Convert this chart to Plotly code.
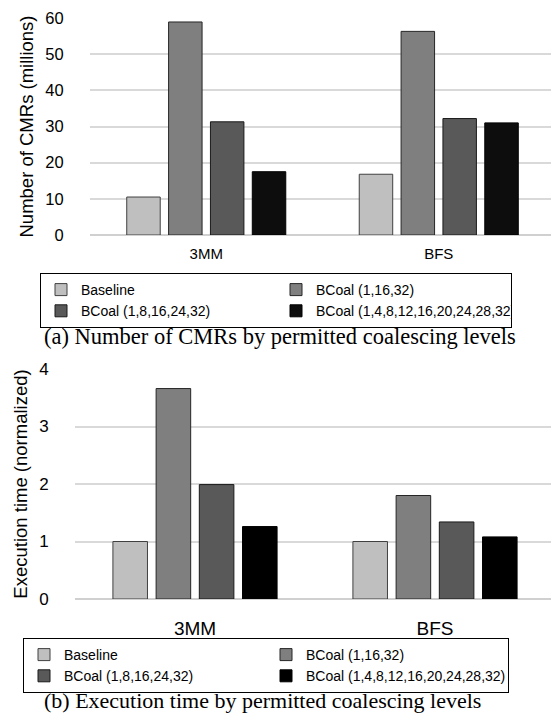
import plotly.graph_objects as go

categories = ["3MM", "BFS"]
series_names = ["Baseline", "BCoal (1,16,32)", "BCoal (1,8,16,24,32)", "BCoal (1,4,8,12,16,20,24,28,32)"]

cmr_baseline = [10.5, 16.8]
cmr_b16 = [58.9, 56.3]
cmr_b8 = [31.3, 32.2]
cmr_b4 = [17.5, 31.0]

time_baseline = [1.0, 1.0]
time_b16 = [3.66, 1.80]
time_b8 = [1.99, 1.34]
time_b4 = [1.26, 1.08]

colors_top = ["#bfbfbf", "#7f7f7f", "#595959", "#0d0d0d"]
colors_bot = ["#bfbfbf", "#7f7f7f", "#595959", "#000000"]
line_colors = ["#404040", "#262626", "#1a1a1a", "#000000"]

FONT = "Liberation Sans, Arial, sans-serif"
SERIF = "Liberation Serif, Times New Roman, serif"

fig = go.Figure()

top_vals = [cmr_baseline, cmr_b16, cmr_b8, cmr_b4]
bot_vals = [time_baseline, time_b16, time_b8, time_b4]

for i, name in enumerate(series_names):
    fig.add_trace(go.Bar(
        x=categories, y=top_vals[i], name=name,
        marker=dict(color=colors_top[i], line=dict(color=line_colors[i], width=1)),
        xaxis="x", yaxis="y", legend="legend", offsetgroup=str(i),
    ))
for i, name in enumerate(series_names):
    fig.add_trace(go.Bar(
        x=categories, y=bot_vals[i], name=name,
        marker=dict(color=colors_bot[i], line=dict(color=line_colors[i], width=1)),
        xaxis="x2", yaxis="y2", legend="legend2", offsetgroup=str(i),
    ))

# the page body has an 8px margin; the figure is sized to fit the window
OFF = 8
W, H = 559 - OFF, 717 - OFF

def px_x(p):
    return (p - OFF) / W

def px_y(p):
    return 1 - (p - OFF) / H

fig.update_layout(
    width=W, height=H,
    margin=dict(l=0, r=0, t=0, b=0),
    paper_bgcolor="white", plot_bgcolor="white",
    barmode="group", bargap=0.28, bargroupgap=0.2,
    font=dict(family=FONT, color="#000000"),
    xaxis=dict(domain=[px_x(90), min(1, px_x(555))], anchor="y", showgrid=False, showline=False,
               zeroline=False, ticks="outside", ticklen=5, tickcolor="rgba(0,0,0,0)",
               tickfont=dict(size=15, family=FONT), automargin=False, fixedrange=True),
    yaxis=dict(domain=[px_y(235), px_y(18)], anchor="x", range=[0, 60], dtick=10,
               showgrid=True, gridcolor="#d9d9d9", gridwidth=1.5,
               zeroline=True, zerolinecolor="#d0d0d0", zerolinewidth=1.5,
               ticks="outside", ticklen=22, tickcolor="rgba(0,0,0,0)",
               ticklabeloverflow="allow",
               tickfont=dict(size=16.5, family=FONT), automargin=False,
               title=dict(text="Number of CMRs (millions)", font=dict(size=18.5, family=FONT), standoff=6)),
    xaxis2=dict(domain=[px_x(75), min(1, px_x(555))], anchor="y2", showgrid=False, showline=False,
                zeroline=False, ticks="outside", ticklen=12, tickcolor="rgba(0,0,0,0)",
                tickfont=dict(size=19, family=FONT), automargin=False),
    yaxis2=dict(domain=[px_y(599), px_y(369)], anchor="x2", range=[0, 4], dtick=1,
                showgrid=True, gridcolor="#d9d9d9", gridwidth=1.5,
                zeroline=True, zerolinecolor="#d0d0d0", zerolinewidth=1.5,
                ticks="outside", ticklen=22, tickcolor="rgba(0,0,0,0)",
                ticklabeloverflow="allow",
                tickfont=dict(size=17, family=FONT), automargin=False,
                title=dict(text="Execution time (normalized)", font=dict(size=18.5, family=FONT), standoff=6)),
    legend=dict(orientation="h", x=px_x(40), y=px_y(273), xanchor="left", yanchor="top",
                bordercolor="#000000", borderwidth=1, bgcolor="white",
                entrywidth=190, entrywidthmode="pixels", itemwidth=30,
                font=dict(size=14, family=FONT), tracegroupgap=0, traceorder="normal"),
    legend2=dict(orientation="h", x=px_x(23), y=px_y(638), xanchor="left", yanchor="top",
                 bordercolor="#000000", borderwidth=1, bgcolor="white",
                 entrywidth=197, entrywidthmode="pixels", itemwidth=30,
                 font=dict(size=14, family=FONT), tracegroupgap=0, traceorder="normal"),
    annotations=[
        dict(text="(a) Number of CMRs by permitted coalescing levels", x=px_x(280), y=px_y(337),
             xref="paper", yref="paper", showarrow=False, xanchor="center", yanchor="middle",
             font=dict(size=22.5, family=SERIF, color="#000000")),
        dict(text="(b) Execution time by permitted coalescing levels", x=px_x(262), y=px_y(700),
             xref="paper", yref="paper", showarrow=False, xanchor="center", yanchor="middle",
             font=dict(size=22, family=SERIF, color="#000000")),
    ],
)

fig.write_html("out.html")
